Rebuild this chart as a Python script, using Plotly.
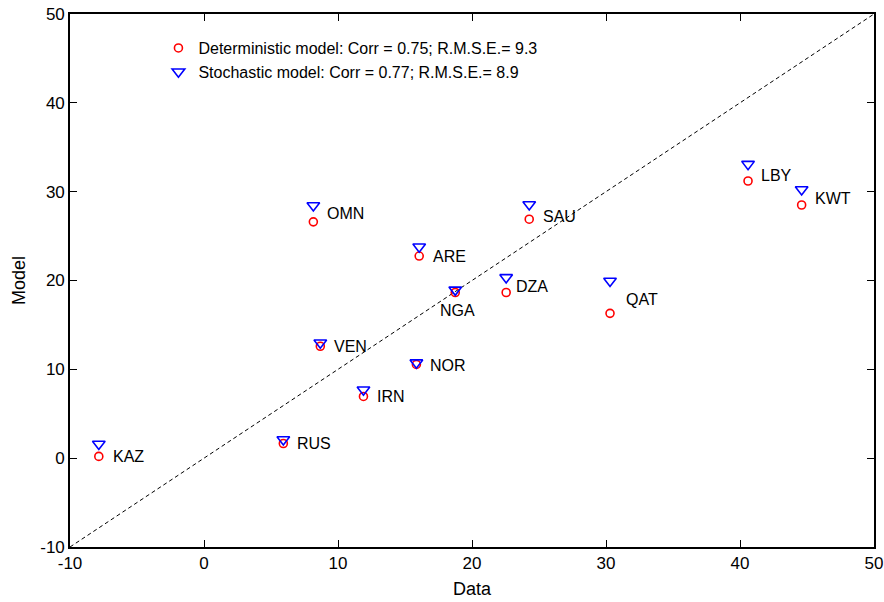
import plotly.graph_objects as go

countries = ["KAZ", "RUS", "VEN", "IRN", "NOR", "OMN", "ARE", "NGA", "DZA", "SAU", "QAT", "LBY", "KWT"]
data_x = [-7.85, 5.92, 8.68, 11.9, 15.85, 8.16, 16.06, 18.75, 22.55, 24.27, 30.3, 40.6, 44.6]
det_model = [0.2, 1.65, 12.6, 6.95, 10.55, 26.6, 22.75, 18.65, 18.65, 26.9, 16.3, 31.2, 28.5]
sto_model = [1.6, 2.1, 13.0, 7.7, 10.75, 28.45, 23.8, 18.95, 20.35, 28.55, 19.95, 33.1, 30.25]
axis_range = [-10, 50]
tick_vals = [-10, 0, 10, 20, 30, 40, 50]
tick_text = ["-10", "0", "10", "20", "30", "40", "50"]

# label placement offsets (px) relative to the deterministic point
label_offsets = {
    "KAZ": (12, 0, "left"), "RUS": (12, 0, "left"), "VEN": (12, 0, "left"),
    "IRN": (12, 0, "left"), "NOR": (12, -1, "left"), "OMN": (12, 8, "left"),
    "ARE": (12, 0, "left"), "NGA": (2, -18, "center"), "DZA": (8, 6, "left"),
    "SAU": (12, 3, "left"), "QAT": (14, 14, "left"), "LBY": (11, 6, "left"),
    "KWT": (11, 6, "left"),
}

font_family = "Liberation Sans, Arial, Helvetica, sans-serif"

fig = go.Figure()
fig.add_trace(go.Scatter(
    x=axis_range, y=axis_range, mode="lines",
    line=dict(color="black", width=1, dash="4px,3px"),
    showlegend=False, hoverinfo="skip"))
fig.add_trace(go.Scatter(
    x=data_x, y=det_model, mode="markers",
    name="Deterministic model: Corr = 0.75; R.M.S.E.= 9.3",
    marker=dict(symbol="circle-open", size=8, color="#ff0000", line=dict(width=1.6, color="#ff0000"))))
fig.add_trace(go.Scatter(
    x=data_x, y=sto_model, mode="markers",
    name="Stochastic model: Corr = 0.77; R.M.S.E.= 8.9",
    marker=dict(symbol="triangle-down-open", size=11, color="#0000ff", line=dict(width=1.6, color="#0000ff"))))

for c, x, y in zip(countries, data_x, det_model):
    dx, dy, anchor = label_offsets[c]
    fig.add_annotation(x=x, y=y, text=c, showarrow=False, xanchor=anchor, yanchor="middle",
                       xshift=dx, yshift=dy, font=dict(size=16, color="black", family=font_family))

axis_common = dict(
    range=axis_range, tickvals=tick_vals, ticktext=tick_text, ticks="inside", ticklen=7, tickwidth=1.2,
    tickcolor="black", showline=True, linecolor="black", linewidth=1.6, mirror="ticks",
    showgrid=False, zeroline=False, automargin=False,
    tickfont=dict(size=17, color="black", family=font_family),
)
fig.update_xaxes(**axis_common, title=dict(text="Data", font=dict(size=18, color="black", family=font_family), standoff=10))
fig.update_yaxes(**axis_common, title=dict(text="Model", font=dict(size=18, color="black", family=font_family), standoff=10))

fig.update_layout(
    width=884, height=602,
    margin=dict(l=70, r=10, t=14, b=55),
    plot_bgcolor="white", paper_bgcolor="white",
    font=dict(family=font_family, color="black"),
    showlegend=True,
    legend=dict(x=0.110, y=0.968, xanchor="left", yanchor="top", bgcolor="rgba(0,0,0,0)",
                font=dict(size=16, color="black", family=font_family), tracegroupgap=0,
                itemwidth=30),
)

fig.write_html("out.html")
